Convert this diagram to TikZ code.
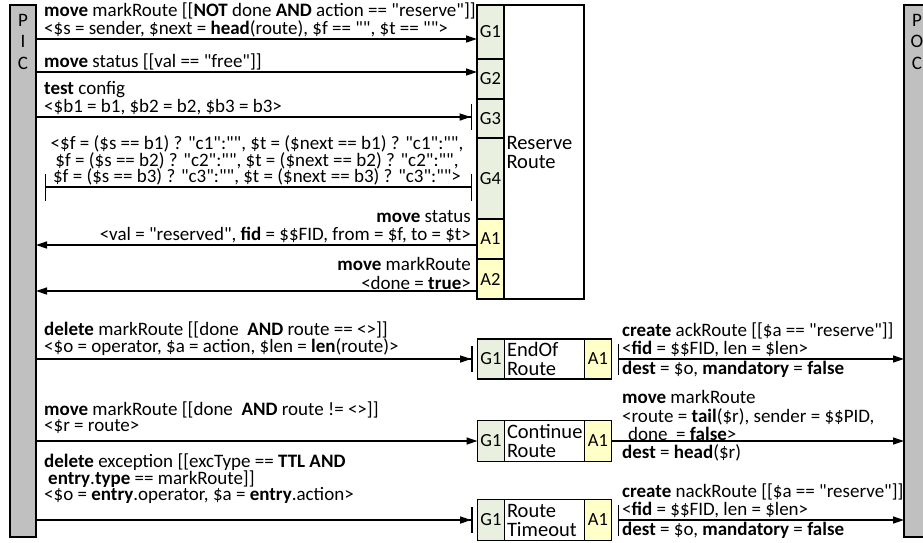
\documentclass[tikz,border=0pt]{standalone}
\usepackage{fontspec}
\setmainfont{Carlito}[Ligatures=TeXOff]
\usetikzlibrary{arrows.meta,positioning}

\definecolor{barGray}{RGB}{192,192,192}
\definecolor{guardGreen}{RGB}{234,240,224}
\definecolor{actYellow}{RGB}{255,255,200}

\newcommand{\noskip}{\setlength{\lineskiplimit}{-30pt}}

\tikzset{
  sidebar/.style={draw, fill=barGray, line width=1.2pt, minimum width=26, inner sep=0, outer sep=0},
  bartxt/.style={align=center, inner sep=0, font=\fontsize{19}{21.5}\selectfont},
  cell/.style={draw, line width=1.2pt, minimum width=27, inner sep=0, outer sep=0, font=\fontsize{18.5}{18.5}\selectfont},
  gcell/.style={cell, fill=guardGreen},
  acell/.style={cell, fill=actYellow},
  tbox/.style={draw, line width=1.2pt, minimum width=80, text width=75, inner xsep=2.5, inner ysep=0, outer sep=0, align=left, font=\fontsize{20.5}{19}\selectfont\noskip},
  lbl/.style={inner sep=0, align=left, font=\fontsize{19}{18.5}\selectfont\noskip},
  tight/.style={font=\fontsize{19}{16.5}\selectfont\noskip},
  msg/.style={line width=1.3pt, -{Triangle[length=11pt,width=7pt]}},
  msgbar/.style={msg, -{Triangle[length=11pt,width=7pt]Bar[width=26pt]}, shorten >=5pt},
  barbar/.style={line width=1.3pt, {Bar[width=27pt]}-{Bar[width=27pt]}, shorten >=5pt},
  barmsg/.style={msg, {Bar[width=31pt]}-{Triangle[length=11pt,width=7pt]}, shorten <=6pt}
}

\begin{document}
\begin{tikzpicture}[x=1pt,y=-1pt]
\useasboundingbox (0,0) rectangle (923,542);

% PIC and POC
\node[sidebar, minimum height=532] (pic) at (23,271) {};
\node[sidebar, minimum height=532] (poc) at (917,271) {};
\node[bartxt, below=9pt of pic.north] (pictxt) {P\\I\\C};
\node[bartxt, below=9pt of poc.north] (poctxt) {P\\O\\C};

% Reserve Route
\node[gcell, minimum height=54] (rg1) at (490.5,32) {G1};
\node[gcell, minimum height=40, below=0pt of rg1] (rg2) {G2};
\node[gcell, minimum height=39, below=0pt of rg2] (rg3) {G3};
\node[gcell, minimum height=81, below=0pt of rg3] (rg4) {G4};
\node[acell, minimum height=40, below=0pt of rg4] (ra1) {A1};
\node[acell, minimum height=40, below=0pt of ra1] (ra2) {A2};
\node[tbox, minimum height=294, anchor=north west] (rr) at (rg1.north east) {Reserve\\Route};

% EndOf Route
\node[gcell, minimum height=40] (eg1) at (491,359) {G1};
\node[tbox, minimum height=40, right=0pt of eg1] (eor) {EndOf\\Route};
\node[acell, minimum height=40, right=0pt of eor] (ea1) {A1};

% Continue Route
\node[gcell, minimum height=41] (cg1) at (491,441) {G1};
\node[tbox, minimum height=41, right=0pt of cg1] (cor) {Continue\\Route};
\node[acell, minimum height=41, right=0pt of cor] (ca1) {A1};

% Route Timeout
\node[gcell, minimum height=41] (tg1) at (491,520) {G1};
\node[tbox, minimum height=41, right=0pt of tg1] (tor) {Route\\Timeout};
\node[acell, minimum height=41, right=0pt of tor] (ta1) {A1};

\coordinate (m1) at (36,39);
\coordinate (m2) at (36,72);
\coordinate (m3) at (36,117);
\coordinate (m4) at (45,187);
\coordinate (m5) at (36,245);
\coordinate (m6) at (36,291);

\draw[msg] (m1) -- (m1 -| rg1.west);
\draw[msg] (m2) -- (m2 -| rg2.west);
\draw[msgbar] (m3) -- (m3 -| rg3.west);
\draw[barbar] (m4) -- (m4 -| rg4.west);
\draw[msg] (m5 -| ra1.west) -- (m5);
\draw[msg] (m6 -| ra2.west) -- (m6);
\draw[msgbar] (pic.east |- eg1.west) -- (eg1.west);
\draw[msg] (pic.east |- cg1.west) -- (cg1.west);
\draw[msgbar] (pic.east |- tg1.west) -- (tg1.west);
\draw[barmsg] (ea1.east) -- (ea1.east -| poc.west);
\draw[msg] (ca1.east) -- (ca1.east -| poc.west);
\draw[barmsg] (ta1.east) -- (ta1.east -| poc.west);

% labels
\node[lbl, anchor=south west] (l1) at (44,37.5) {\textbf{move} markRoute [[\textbf{NOT} done \textbf{AND} action == "reserve"]]\\<\$s = sender, \$next = \textbf{head}(route), \$f == "", \$t == "">};
\node[lbl, anchor=south west] (l2) at (44,70.5) {\textbf{move} status [[val == "free"]]};
\node[lbl, anchor=south west] (l3) at (44,115.5) {\textbf{test} config\\<\$b1 = b1, \$b2 = b2, \$b3 = b3>};
\node[lbl, tight, align=center, anchor=south] (l4) at (257,185.5) {<\$f = (\$s == b1) ? "c1":"", \$t = (\$next == b1) ? "c1":"",\\\$f = (\$s == b2) ? "c2":"", \$t = (\$next == b2) ? "c2":"",\\\$f = (\$s == b3) ? "c3":"", \$t = (\$next == b3) ? "c3":"">};
\node[lbl, align=right, anchor=south east] (l5) at (471,243.5) {\textbf{move} status\\<val = "reserved", \textbf{fid} = \$\$FID, from = \$f, to = \$t>};
\node[lbl, align=right, anchor=south east] (l6) at (471,289.5) {\textbf{move} markRoute\\<done = \textbf{true}>};
\node[lbl, tight, anchor=south west] (l7) at (44,355.5) {\textbf{delete} markRoute [[done\ \ \textbf{AND} route == <>]]\\<\$o = operator, \$a = action, \$len = \textbf{len}(route)>};
\node[lbl, tight, anchor=south west] (l8) at (44,434) {\textbf{move} markRoute [[done\ \ \textbf{AND} route != <>]]\\<\$r = route>};
\node[lbl, tight, anchor=south west] (l9) at (44,504) {\textbf{delete} exception [[excType == \textbf{TTL AND}\\\hspace*{4pt}\textbf{entry}.\textbf{type} == markRoute]]\\<\$o = \textbf{entry}.operator, \$a = \textbf{entry}.action>};

\node[lbl, anchor=south west] (r1) at (622,357.5) {\textbf{create} ackRoute [[\$a == "reserve"]]\\<\textbf{fid} = \$\$FID, len = \$len>};
\node[lbl, anchor=north west] (r1b) at (622,360.5) {\textbf{dest} = \$o, \textbf{mandatory} = \textbf{false}};
\node[lbl, anchor=south west] (r2) at (622,441) {\textbf{move} markRoute\\<route = \textbf{tail}(\$r), sender = \$\$PID,\\\hspace*{6pt}done\ \ = \textbf{false}>};
\node[lbl, anchor=north west] (r2b) at (622,444) {\textbf{dest} = \textbf{head}(\$r)};
\node[lbl, anchor=south west] (r3) at (622,518.5) {\textbf{create} nackRoute [[\$a == "reserve"]]\\<\textbf{fid} = \$\$FID, len = \$len>};
\node[lbl, anchor=north west] (r3b) at (622,521.5) {\textbf{dest} = \$o, \textbf{mandatory} = \textbf{false}};
\end{tikzpicture}
\end{document}
